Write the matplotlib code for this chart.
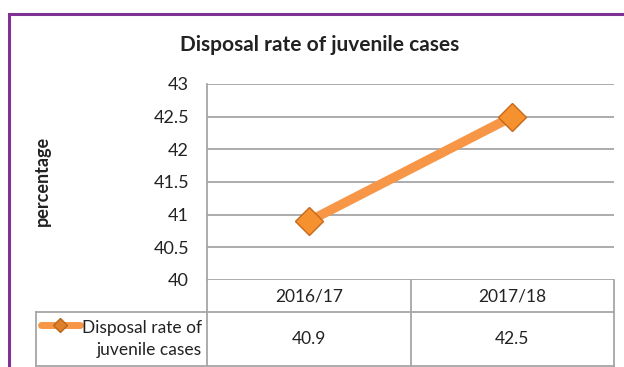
import matplotlib
matplotlib.use("Agg")
import matplotlib.pyplot as plt
from matplotlib.lines import Line2D
from matplotlib.patches import Rectangle

categories = ["2016/17", "2017/18"]
values = [40.9, 42.5]
series_name = "Disposal rate of\njuvenile cases"
yticks = [40, 40.5, 41, 41.5, 42, 42.5, 43]
ytick_labels = ["40", "40.5", "41", "41.5", "42", "42.5", "43"]
title = "Disposal rate of juvenile cases"
ylabel = "percentage"

plt.rcParams['font.family'] = ['Lato', 'DejaVu Sans']

W, H = 624, 367
fig = plt.figure(figsize=(W / 100, H / 100), dpi=100)

def fx(px):
    return px / W

def fy(py):
    return 1 - py / H

# purple outer border (extends past right and bottom edges)
fig.add_artist(Rectangle((fx(9), fy(400)), fx(700), (400 - 14) / H,
                         transform=fig.transFigure, fill=False,
                         edgecolor="#7F3294", linewidth=2.2))

L, R, T, B = 207, 614, 84, 280
ax = fig.add_axes([fx(L), fy(B), fx(R) - fx(L), (B - T) / H])
x = list(range(len(categories)))
ax.plot(x, values, color="#F79646", linewidth=6.8, solid_capstyle="butt",
        marker="D", markersize=14, markerfacecolor="#F5922F",
        markeredgecolor="#C8681A", markeredgewidth=1.0, zorder=3)
ax.set_xlim(-0.5, len(categories) - 0.5)
ax.set_ylim(yticks[0], yticks[-1])
ax.set_yticks(yticks)
ax.set_yticklabels(ytick_labels, fontsize=13, color="#222222")
ax.yaxis.grid(True, color="#A6A6A6", linewidth=1.3)
ax.set_axisbelow(True)
ax.set_xticks([])
ax.tick_params(axis="y", length=0, pad=13)
for s in ["top", "right", "bottom"]:
    ax.spines[s].set_visible(False)
ax.spines["left"].set_color("#A6A6A6")
ax.spines["left"].set_linewidth(1.3)

fig.text(fx(320), fy(45), title, ha="center", va="center", fontsize=15,
         fontweight="bold", color="#222222")
fig.text(fx(42.5), fy(181), ylabel, rotation=90, ha="center", va="center",
         fontsize=13, fontweight="bold", color="#222222")

# data table below axes
gc = "#A6A6A6"
col_w = (R - L) / len(categories)
row1_top, row1_bot, row2_bot = 280, 311.5, 366
leg_left = 36

def hline(y, x0, x1):
    fig.add_artist(Line2D([fx(x0), fx(x1)], [fy(y), fy(y)], color=gc, linewidth=1.3))

def vline(xp, y0, y1):
    fig.add_artist(Line2D([fx(xp), fx(xp)], [fy(y0), fy(y1)], color=gc, linewidth=1.3))

hline(row1_bot, leg_left, R)
hline(row2_bot, leg_left, R)
vline(L, row1_top, row2_bot)
vline(leg_left, row1_bot, row2_bot)
vline(R, row1_top, row2_bot)
for i in range(1, len(categories)):
    vline(L + i * col_w, row1_top, row2_bot)

for i, c in enumerate(categories):
    cx = L + (i + 0.5) * col_w
    fig.text(fx(cx), fy((row1_top + row1_bot) / 2 + 1), c, ha="center",
             va="center", fontsize=12.5, color="#222222")
    fig.text(fx(cx), fy((row1_bot + row2_bot) / 2), f"{values[i]:g}",
             ha="center", va="center", fontsize=12.5, color="#222222")

# legend key in table
fig.add_artist(Line2D([fx(41), fx(80)], [fy(325), fy(325)], color="#F79646",
                      linewidth=5, solid_capstyle="round"))
fig.add_artist(Line2D([fx(60)], [fy(325)], marker="D", markersize=7.5,
                      markerfacecolor="#E07F2A", markeredgecolor="#B8651E",
                      linestyle="none"))
fig.text(fx(202), fy(339), series_name, ha="right", va="center",
         fontsize=12.5, linespacing=1.45, color="#222222")

fig.savefig("out.png", dpi=100)
